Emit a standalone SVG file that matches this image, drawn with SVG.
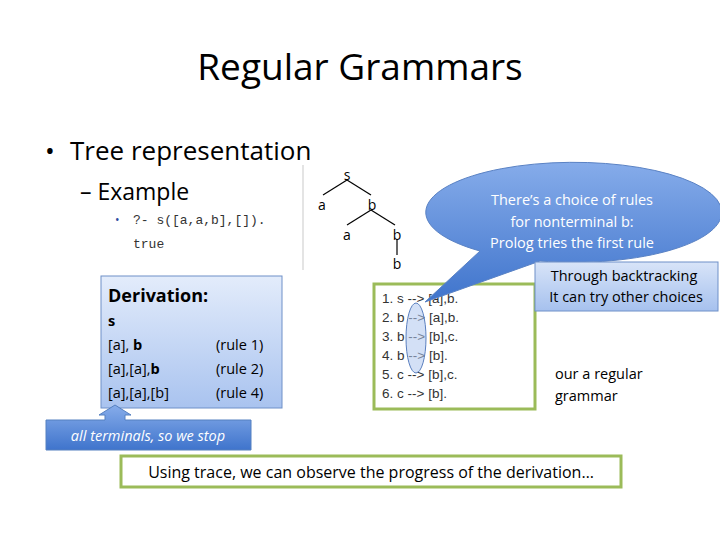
<svg xmlns="http://www.w3.org/2000/svg" width="720" height="540" viewBox="0 0 720 540">
<defs>
<linearGradient id="gb" x1="0" y1="0" x2="0" y2="1"><stop offset="0" stop-color="#e3ecfb"/><stop offset="1" stop-color="#a9c3ef"/></linearGradient>
<linearGradient id="gd" x1="0" y1="0" x2="0" y2="1"><stop offset="0" stop-color="#86acea"/><stop offset="1" stop-color="#3f74cc"/></linearGradient>
<linearGradient id="gl" x1="0" y1="0" x2="0" y2="1"><stop offset="0" stop-color="#d8e4f8"/><stop offset="1" stop-color="#a6c1ee"/></linearGradient>
</defs>
<style>
text{font-family:"Open Sans","Liberation Sans",sans-serif;fill:#000}
.m{font-family:"Liberation Mono",monospace;font-size:13px;fill:#333}
.t{font-size:14.5px}
.ar{font-family:"Liberation Sans",sans-serif;font-size:13.5px;fill:#333}
.e{stroke:#000;stroke-width:1.2}
</style>
<rect width="720" height="540" fill="#fff"/>
<text x="360" y="80" text-anchor="middle" font-size="37">Regular Grammars</text>
<text x="45" y="160" font-size="26">•</text>
<text x="70" y="160" font-size="26">Tree representation</text>
<text x="80" y="200" font-size="23">– Example</text>
<text x="115" y="224" font-size="12" style="fill:#2a4aa0">•</text>
<text x="133" y="224" class="m">?- s([a,a,b],[]).</text>
<text x="133" y="248" class="m">true</text>
<line x1="303" y1="165" x2="303" y2="270" stroke="#e4e4e4" stroke-width="2"/>
<g id="tree">
<line class="e" x1="347" y1="180" x2="323" y2="195"/><line class="e" x1="347" y1="180" x2="371" y2="195"/>
<line class="e" x1="371" y1="210" x2="347" y2="225"/><line class="e" x1="371" y1="210" x2="395" y2="225"/>
<line class="e" x1="397" y1="240" x2="397" y2="255"/>
<text x="347" y="180" text-anchor="middle" font-size="14">s</text>
<text x="322" y="210" text-anchor="middle" font-size="14">a</text>
<text x="372" y="210" text-anchor="middle" font-size="14">b</text>
<text x="347" y="240" text-anchor="middle" font-size="14">a</text>
<text x="397" y="240" text-anchor="middle" font-size="14">b</text>
<text x="397" y="269" text-anchor="middle" font-size="14">b</text>
</g>
<g id="derivation">
<rect x="101" y="276" width="181" height="132" fill="url(#gb)" stroke="#6e90c8"/>
<text x="108" y="302" font-size="18" font-weight="bold">Derivation:</text>
<text x="108" y="326" class="t" font-weight="bold">s</text>
<text x="108" y="350" class="t">[a], <tspan font-weight="bold">b</tspan></text>
<text x="108" y="374" class="t">[a],[a],<tspan font-weight="bold">b</tspan></text>
<text x="108" y="398" class="t">[a],[a],[b]</text>
<text x="216" y="350" class="t">(rule 1)</text>
<text x="216" y="374" class="t">(rule 2)</text>
<text x="216" y="398" class="t">(rule 4)</text>
</g>
<g id="stop">
<path d="M46,420 H105 V415 H99 L115,405 L131,415 H125 V420 H251 V450 H46 Z" fill="url(#gd)" stroke="#5580c0"/>
<text x="148" y="441" text-anchor="middle" font-size="14.5" font-style="italic" style="fill:#fff">all terminals, so we stop</text>
</g>
<g id="rules">
<rect x="374" y="284" width="161" height="125" fill="#fff" stroke="#9bbb59" stroke-width="3"/>
<text x="382" y="303" class="ar">1. s --&gt; [a],b.</text>
<text x="382" y="322" class="ar">2. b --&gt; [a],b.</text>
<text x="382" y="341" class="ar">3. b --&gt; [b],c.</text>
<text x="382" y="360" class="ar">4. b --&gt; [b].</text>
<text x="382" y="379" class="ar">5. c --&gt; [b],c.</text>
<text x="382" y="398" class="ar">6. c --&gt; [b].</text>
<ellipse cx="416" cy="338" rx="10" ry="35" fill="#aec6ee" fill-opacity="0.55" stroke="#5a7fbf"/>
</g>
<g id="bubble">
<path d="M480,251 A148,50 0 1 1 540,261 L425,302 Z" fill="url(#gd)" stroke="#5a82c4"/>
<text x="572" y="205" text-anchor="middle" font-size="14.5" style="fill:#fff">There’s a choice of rules</text>
<text x="572" y="227" text-anchor="middle" font-size="14.5" style="fill:#fff">for nonterminal b:</text>
<text x="572" y="248" text-anchor="middle" font-size="14.5" style="fill:#fff">Prolog tries the first rule</text>
</g>
<g id="backtrack">
<rect x="535" y="262" width="183" height="49" fill="url(#gl)" stroke="#6e90c8"/>
<text x="624" y="281" text-anchor="middle" font-size="14.5">Through backtracking</text>
<text x="626" y="302" text-anchor="middle" font-size="14.5">It can try other choices</text>
</g>
<text x="555" y="379" class="t">our a regular</text>
<text x="555" y="401" class="t">grammar</text>
<g id="trace">
<rect x="121" y="456" width="500" height="31" fill="#fff" stroke="#9bbb59" stroke-width="3"/>
<text x="371" y="478" text-anchor="middle" font-size="16">Using trace, we can observe the progress of the derivation…</text>
</g>
</svg>
